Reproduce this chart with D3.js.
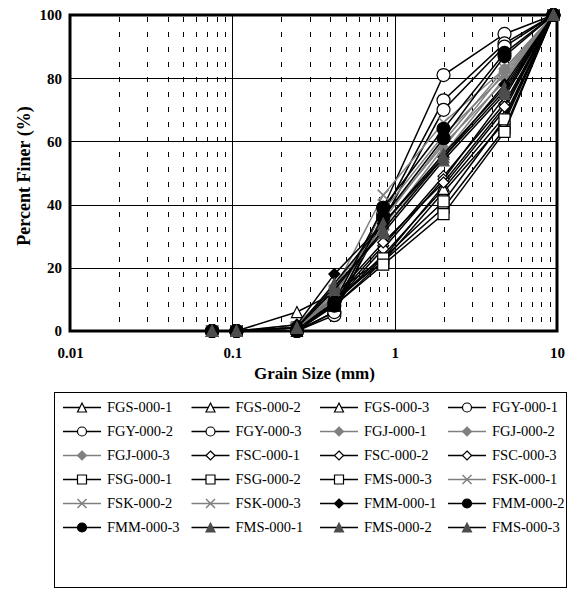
<!DOCTYPE html>
<html>
<head>
<meta charset="utf-8">
<script src="https://cdn.jsdelivr.net/npm/d3@7"></script>
<style>
  body { margin: 0; background: #fff; }
  svg { display: block; }
</style>
</head>
<body>
<svg id="chart" width="572" height="589"></svg>
<script>
// Sieve openings (mm)
const sieveSizes = [0.075, 0.106, 0.25, 0.425, 0.85, 2.0, 4.75, 9.5];

// Percent finer for each sample, one value per sieve
const fgs1 = [0, 0, 6, 12, 23, 46, 70, 100];
const fgs2 = [0, 0, 1, 10, 22, 44, 66, 100];
const fgs3 = [0, 0, 0, 9, 24, 45, 68, 100];
const fgy1 = [0, 0, 0, 6, 39, 81, 94, 100];
const fgy2 = [0, 0, 0, 5, 37, 73, 91, 100];
const fgy3 = [0, 0, 0, 6, 35, 70, 90, 100];
const fgj1 = [0, 0, 1, 13, 33, 58, 82, 100];
const fgj2 = [0, 0, 1, 12, 32, 56, 80, 100];
const fgj3 = [0, 0, 2, 14, 35, 60, 83, 100];
const fsc1 = [0, 0, 1, 10, 27, 49, 72, 100];
const fsc2 = [0, 0, 1, 9, 26, 48, 74, 100];
const fsc3 = [0, 0, 1, 11, 28, 47, 71, 100];
const fsg1 = [0, 0, 1, 8, 22, 39, 64, 100];
const fsg2 = [0, 0, 1, 9, 23, 41, 67, 100];
const fsg3 = [0, 0, 1, 8, 21, 37, 63, 100];
const fsk1 = [0, 0, 1, 13, 43, 66, 83, 100];
const fsk2 = [0, 0, 1, 11, 38, 62, 81, 100];
const fsk3 = [0, 0, 1, 10, 36, 59, 79, 100];
const fmm1 = [0, 0, 2, 18, 34, 55, 78, 100];
const fmm2 = [0, 0, 0, 9, 39, 64, 88, 100];
const fmm3 = [0, 0, 0, 8, 36, 61, 87, 100];
const fms1 = [0, 0, 1, 15, 34, 56, 77, 100];
const fms2 = [0, 0, 1, 14, 31, 54, 75, 100];
const fms3 = [0, 0, 1, 13, 32, 55, 76, 100];

const seriesNames = [
  "FGS-000-1", "FGS-000-2", "FGS-000-3", "FGY-000-1",
  "FGY-000-2", "FGY-000-3", "FGJ-000-1", "FGJ-000-2",
  "FGJ-000-3", "FSC-000-1", "FSC-000-2", "FSC-000-3",
  "FSG-000-1", "FSG-000-2", "FMS-000-3", "FSK-000-1",
  "FSK-000-2", "FSK-000-3", "FMM-000-1", "FMM-000-2",
  "FMM-000-3", "FMS-000-1", "FMS-000-2", "FMS-000-3"
];
const seriesValues = [
  fgs1, fgs2, fgs3, fgy1, fgy2, fgy3, fgj1, fgj2,
  fgj3, fsc1, fsc2, fsc3, fsg1, fsg2, fsg3, fsk1,
  fsk2, fsk3, fmm1, fmm2, fmm3, fms1, fms2, fms3
];

const xTicks = [0.01, 0.1, 1, 10];
const xTickLabels = ["0.01", "0.1", "1", "10"];
const yTicks = [0, 20, 40, 60, 80, 100];

// Marker / line styling per sample group
const BLACK = "#000", GREY = "#808080", DARK = "#4d4d4d";
const styleFor = name => {
  if (name.startsWith("FGS")) return { shape: "triangle", fill: "#fff", stroke: BLACK, line: BLACK };
  if (name.startsWith("FGY")) return { shape: "circle", fill: "#fff", stroke: BLACK, line: BLACK };
  if (name.startsWith("FGJ")) return { shape: "diamond", fill: GREY, stroke: GREY, line: GREY };
  if (name.startsWith("FSC")) return { shape: "diamond", fill: "#fff", stroke: BLACK, line: BLACK };
  if (name.startsWith("FSG")) return { shape: "square", fill: "#fff", stroke: BLACK, line: BLACK };
  if (name.startsWith("FSK")) return { shape: "x", fill: "none", stroke: GREY, line: GREY };
  if (name === "FMM-000-1") return { shape: "diamond", fill: BLACK, stroke: BLACK, line: BLACK };
  if (name.startsWith("FMM")) return { shape: "circle", fill: BLACK, stroke: BLACK, line: BLACK };
  return { shape: "triangle", fill: DARK, stroke: DARK, line: BLACK };
};
// the 15th entry is the third open-square sample
const seriesStyles = seriesNames.map((n, i) =>
  i === 14 ? { shape: "square", fill: "#fff", stroke: BLACK, line: BLACK } : styleFor(n));

const FONT = "'Liberation Serif', 'Times New Roman', Times, serif";

const svg = d3.select("#chart");
const x = d3.scaleLog().domain([0.01, 10]).range([70, 557]);
const y = d3.scaleLinear().domain([0, 100]).range([331, 15]);

function markerPath(shape, s) {
  const h = s / 2;
  switch (shape) {
    case "triangle": return `M0,${-h}L${h},${h}L${-h},${h}Z`;
    case "diamond": return `M0,${-h}L${h},0L0,${h}L${-h},0Z`;
    case "square": return `M${-h},${-h}H${h}V${h}H${-h}Z`;
    case "x": return `M${-h},${-h}L${h},${h}M${h},${-h}L${-h},${h}`;
    default: return d3.path().toString();
  }
}
function drawMarker(g, st, cx, cy, s) {
  if (st.shape === "circle") {
    g.append("circle").attr("cx", cx).attr("cy", cy).attr("r", s / 2)
      .attr("fill", st.fill).attr("stroke", st.stroke).attr("stroke-width", 1.2);
  } else {
    g.append("path").attr("transform", `translate(${cx},${cy})`)
      .attr("d", markerPath(st.shape, s))
      .attr("fill", st.shape === "x" ? "none" : st.fill)
      .attr("stroke", st.stroke).attr("stroke-width", st.shape === "x" ? 1.5 : 1.2);
  }
}

// Grid: dashed minor verticals, solid majors and horizontals
const grid = svg.append("g");
const minor = [];
[0.01, 0.1, 1].forEach(d => { for (let k = 2; k <= 9; k++) minor.push(k * d); });
grid.selectAll("line.minor").data(minor).join("line")
  .attr("x1", d => Math.round(x(d)) + 0.5).attr("x2", d => Math.round(x(d)) + 0.5)
  .attr("y1", y(100) + 2).attr("y2", y(0))
  .attr("stroke", "#000").attr("stroke-width", 1)
  .attr("stroke-dasharray", "5,10");
grid.selectAll("line.major").data([0.1, 1]).join("line")
  .attr("x1", d => Math.round(x(d)) + 0.5).attr("x2", d => Math.round(x(d)) + 0.5)
  .attr("y1", y(100)).attr("y2", y(0))
  .attr("stroke", "#000").attr("stroke-width", 1);
grid.selectAll("line.h").data([20, 40, 60, 80]).join("line")
  .attr("x1", x(0.01)).attr("x2", x(10))
  .attr("y1", d => Math.round(y(d)) + 0.5).attr("y2", d => Math.round(y(d)) + 0.5)
  .attr("stroke", "#000").attr("stroke-width", 1);

// Plot frame
svg.append("rect")
  .attr("x", x(0.01)).attr("y", y(100))
  .attr("width", x(10) - x(0.01)).attr("height", y(0) - y(100))
  .attr("fill", "none").attr("stroke", "#000").attr("stroke-width", 3);

// Axes
const yAxis = svg.append("g").attr("transform", `translate(${x(0.01) - 8},0)`)
  .call(d3.axisLeft(y).tickValues(yTicks).tickSize(0).tickPadding(0));
yAxis.select(".domain").remove();
yAxis.selectAll("text").attr("font-family", FONT).attr("font-size", 15)
  .attr("font-weight", "bold").attr("fill", "#000");

const xAxis = svg.append("g").attr("transform", `translate(0,${y(0) + 16})`)
  .call(d3.axisBottom(x).tickValues(xTicks).tickSize(0).tickPadding(0)
    .tickFormat((d, i) => xTickLabels[i]));
xAxis.select(".domain").remove();
xAxis.selectAll("text").attr("font-family", FONT).attr("font-size", 15)
  .attr("font-weight", "bold").attr("fill", "#000");

svg.append("text").attr("x", (x(0.01) + x(10)) / 2 + 1).attr("y", 379)
  .attr("text-anchor", "middle").attr("font-family", FONT).attr("font-size", 17)
  .attr("font-weight", "bold").text("Grain Size (mm)");
svg.append("text").attr("transform", `translate(30,176) rotate(-90)`)
  .attr("text-anchor", "middle").attr("font-family", FONT).attr("font-size", 18)
  .attr("font-weight", "bold").text("Percent Finer (%)");

// Series
const plot = svg.append("g");
const line = d3.line().x((d, i) => x(sieveSizes[i])).y(d => y(d));
seriesValues.forEach((vals, si) => {
  const st = seriesStyles[si];
  const g = plot.append("g");
  g.append("path").attr("d", line(vals)).attr("fill", "none")
    .attr("stroke", st.line).attr("stroke-width", 1.5);
  vals.forEach((v, i) => drawMarker(g, st, x(sieveSizes[i]), y(v), st.shape === "circle" ? 13 : 11));
});

// Legend
const lg = svg.append("g");
lg.append("rect").attr("x", 54.5).attr("y", 392.5).attr("width", 512).attr("height", 195)
  .attr("fill", "#fff").attr("stroke", "#000").attr("stroke-width", 1);
const colX = [63, 191.5, 320, 448];
const rowY = [407.5, 431.5, 455.5, 479.5, 503.5, 527.5];
seriesNames.forEach((name, i) => {
  const st = seriesStyles[i];
  const cx = colX[i % 4], cy = rowY[Math.floor(i / 4)];
  const g = lg.append("g");
  g.append("line").attr("x1", cx).attr("x2", cx + 38).attr("y1", cy).attr("y2", cy)
    .attr("stroke", st.line).attr("stroke-width", 1.5);
  drawMarker(g, st, cx + 19, cy, 9);
  g.append("text").attr("x", cx + 44).attr("y", cy).attr("dy", "0.33em")
    .attr("font-family", FONT).attr("font-size", 14.5).attr("fill", "#000").text(name);
});
</script>
</body>
</html>
